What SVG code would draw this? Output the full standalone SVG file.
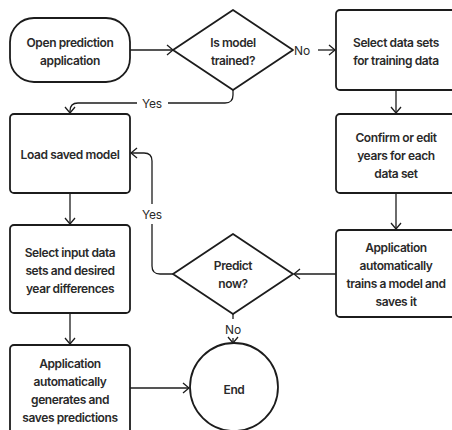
<svg xmlns="http://www.w3.org/2000/svg" width="452" height="430" viewBox="0 0 452 430">
<defs>
<style>
.n{fill:#fff;stroke:#1c1c1c;stroke-width:1.8}
.t{font-family:Inter,"Liberation Sans",sans-serif;font-size:12px;font-weight:600;letter-spacing:-0.4px;fill:#2a2a2a;text-anchor:middle;dominant-baseline:central}
.l{font-family:Inter,"Liberation Sans",sans-serif;font-size:12px;font-weight:400;letter-spacing:-0.2px;fill:#2a2a2a;text-anchor:middle;dominant-baseline:central}
.c{fill:none;stroke:#1c1c1c;stroke-width:1.3}
</style>
<marker id="a" viewBox="0 0 10 12" markerWidth="10" markerHeight="12" refX="9" refY="6" orient="auto" markerUnits="userSpaceOnUse">
<path d="M3,1 L9,6 L3,11" fill="none" stroke="#1c1c1c" stroke-width="1.3"/>
</marker>
</defs>
<rect width="452" height="430" fill="#fff"/>
<g id="connectors">
<path class="c" d="M130,50 L173,50" marker-end="url(#a)"/>
<path class="c" d="M318,50 L335,50" marker-end="url(#a)"/>
<path class="c" d="M233,90 L233,95 Q233,103 225,103 L168,103 M137,103 L78,103 Q70,103 70,111 L70,113" marker-end="url(#a)"/>
<path class="c" d="M396,90 L396,113" marker-end="url(#a)"/>
<path class="c" d="M396,193 L396,229" marker-end="url(#a)"/>
<path class="c" d="M336,274 L294,274" marker-end="url(#a)"/>
<path class="c" d="M173,274 L160,274 Q152,274 152,266 L152,224 M152,204 L152,161 Q152,153 144,153 L131,153" marker-end="url(#a)"/>
<path class="c" d="M233,313 L233,319 M233,338 L233,343" marker-end="url(#a)"/>
<path class="c" d="M70,193 L70,224" marker-end="url(#a)"/>
<path class="c" d="M70,313 L70,344" marker-end="url(#a)"/>
<path class="c" d="M130,388 L189,388" marker-end="url(#a)"/>
<text class="l" x="152" y="103">Yes</text>
<text class="l" x="302" y="50">No</text>
<text class="l" x="152" y="214">Yes</text>
<text class="l" x="233" y="329">No</text>
</g>
<g id="start">
<rect class="n" x="10" y="18" width="120" height="64" rx="24"/>
<text class="t" x="70" y="42">Open prediction</text>
<text class="t" x="70" y="60">application</text>
</g>
<g id="is-trained">
<path class="n" d="M233,10 L293,50 L233,90 L173,50 Z" stroke-linejoin="round"/>
<text class="t" x="233" y="42">Is model</text>
<text class="t" x="233" y="60">trained?</text>
</g>
<g id="select-training">
<rect class="n" x="336" y="10" width="122" height="80" rx="4"/>
<text class="t" x="396" y="42">Select data sets</text>
<text class="t" x="396" y="60">for training data</text>
</g>
<g id="load-model">
<rect class="n" x="10" y="114" width="120" height="79" rx="4"/>
<text class="t" x="70" y="154">Load saved model</text>
</g>
<g id="confirm-years">
<rect class="n" x="336" y="114" width="122" height="79" rx="4"/>
<text class="t" x="396" y="137">Confirm or edit</text>
<text class="t" x="396" y="155">years for each</text>
<text class="t" x="396" y="173">data set</text>
</g>
<g id="select-input">
<rect class="n" x="10" y="225" width="120" height="88" rx="4"/>
<text class="t" x="70" y="252">Select input data</text>
<text class="t" x="70" y="270">sets and desired</text>
<text class="t" x="70" y="288">year differences</text>
</g>
<g id="train-model">
<rect class="n" x="336" y="230" width="122" height="87" rx="4"/>
<text class="t" x="396" y="247">Application</text>
<text class="t" x="396" y="265">automatically</text>
<text class="t" x="396" y="283">trains a model and</text>
<text class="t" x="396" y="301">saves it</text>
</g>
<g id="predict-now">
<path class="n" d="M233,234 L293,274 L233,314 L173,274 Z" stroke-linejoin="round"/>
<text class="t" x="233" y="265">Predict</text>
<text class="t" x="233" y="283">now?</text>
</g>
<g id="generate">
<rect class="n" x="10" y="345" width="120" height="100" rx="4"/>
<text class="t" x="70" y="363">Application</text>
<text class="t" x="70" y="381">automatically</text>
<text class="t" x="70" y="399">generates and</text>
<text class="t" x="70" y="417">saves predictions</text>
</g>
<g id="end">
<circle class="n" cx="234" cy="387" r="44"/>
<text class="t" x="234" y="389">End</text>
</g>
</svg>
